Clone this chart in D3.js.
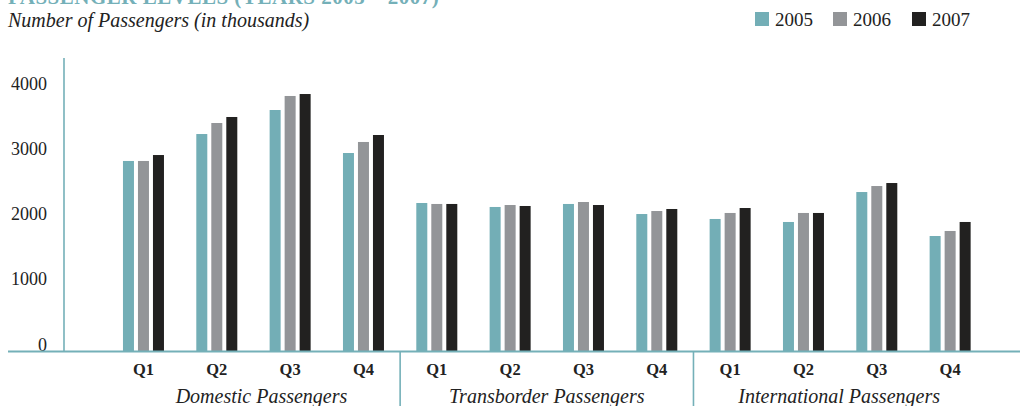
<!DOCTYPE html>
<html>
<head>
<meta charset="utf-8">
<script src="https://cdn.jsdelivr.net/npm/d3@7"></script>
<style>
  html, body { margin: 0; padding: 0; background: #fff; }
  svg { display: block; }
  text { font-family: "Liberation Serif", "DejaVu Serif", serif; }
</style>
</head>
<body>
<svg id="chart" width="1020" height="406"></svg>
<script>
// ---- data ----
const groups = ["Domestic Passengers", "Transborder Passengers", "International Passengers"];
const quarters = ["Q1", "Q2", "Q3", "Q4"];
const years = ["2005", "2006", "2007"];
const values2005 = [2920, 3333, 3701, 3042, 2276, 2215, 2261, 2107, 2031, 1985, 2444, 1770];
const values2006 = [2920, 3502, 3916, 3211, 2261, 2245, 2291, 2153, 2123, 2123, 2536, 1847];
const values2007 = [3011, 3594, 3946, 3318, 2261, 2230, 2245, 2184, 2199, 2123, 2582, 1985];
const yTicks = [0, 1000, 2000, 3000, 4000];
const titleText = "PASSENGER LEVELS (YEARS 2005 – 2007)";
const subtitleText = "Number of Passengers (in thousands)";

// ---- setup ----
const colors = ["#73aeb6", "#939598", "#222120"];
const axisColor = "#74b0b8";
const series = [values2005, values2006, values2007];

const slots = [];
groups.forEach((g, gi) => quarters.forEach((q, qi) => slots.push({ id: gi + "-" + qi, g: gi, q })));

const svg = d3.select("#chart");

const x = d3.scaleBand().domain(slots.map(d => d.id)).range([106.8, 986.8]).padding(0);
const xIn = d3.scaleBand().domain(years).range([0, 41]).paddingInner(4 / 15).paddingOuter(0);
const y = d3.scaleLinear().domain([0, 4000]).range([351.5, 90.5]);

// title (clipped at top, as in the source) and subtitle
svg.append("text").attr("x", 8).attr("y", 4)
  .attr("fill", "#74b0b8").attr("font-size", 21).attr("font-weight", "bold")
  .attr("letter-spacing", 0.5)
  .text(titleText);
svg.append("text").attr("x", 8).attr("y", 27)
  .attr("fill", "#222").attr("font-size", 20).attr("font-style", "italic")
  .text(subtitleText);

// legend
const legend = svg.append("g");
const legendX = [755, 833, 912];
years.forEach((yr, i) => {
  const lg = legend.append("g").attr("transform", `translate(${legendX[i]},12)`);
  lg.append("rect").attr("width", 14).attr("height", 14).attr("fill", colors[i]);
  lg.append("text").attr("x", 20).attr("y", 13.5).attr("font-size", 19)
    .attr("fill", "#222").text(yr);
});

// bars
const bars = svg.append("g");
years.forEach((yr, si) => {
  bars.selectAll(null).data(slots).enter().append("rect")
    .attr("x", (d) => x(d.id) + (x.bandwidth() - 41) / 2 + xIn(yr))
    .attr("width", xIn.bandwidth())
    .attr("y", (d, i) => y(series[si][i]))
    .attr("height", (d, i) => y(0) - y(series[si][i]))
    .attr("fill", colors[si]);
});

// y axis
const yAxis = d3.axisLeft(y).tickValues(yTicks).tickFormat(d3.format("d")).tickSize(0).tickPadding(17);
const yg = svg.append("g").attr("transform", "translate(64,0)").call(yAxis);
yg.select(".domain").remove();
yg.selectAll("text").attr("font-size", 18).attr("fill", "#222")
  .attr("font-family", "Liberation Serif, serif").attr("dy", "-0.08em");
svg.append("line").attr("x1", 64).attr("x2", 64).attr("y1", 58).attr("y2", y(0))
  .attr("stroke", axisColor).attr("stroke-width", 1.6);

// baseline
svg.append("line").attr("x1", 8).attr("x2", 1020).attr("y1", y(0)).attr("y2", y(0))
  .attr("stroke", axisColor).attr("stroke-width", 1.8);

// x axis quarter labels
const xAxis = d3.axisBottom(x).tickFormat(id => slots.find(s => s.id === id).q).tickSize(0).tickPadding(12);
const xg = svg.append("g").attr("transform", `translate(0,${y(0)})`).call(xAxis);
xg.select(".domain").remove();
xg.selectAll("text").attr("font-size", 16.5).attr("font-weight", "bold").attr("fill", "#222")
  .attr("font-family", "Liberation Serif, serif");

// group separators and labels
const groupStart = gi => x(gi + "-0");
const groupEnd = gi => x(gi + "-3") + x.bandwidth();
[1, 2].forEach(gi => {
  svg.append("line").attr("x1", groupStart(gi)).attr("x2", groupStart(gi))
    .attr("y1", y(0)).attr("y2", 406).attr("stroke", axisColor).attr("stroke-width", 1.6);
});
const labelDx = [8, 0, -1];
groups.forEach((g, gi) => {
  svg.append("text")
    .attr("x", (groupStart(gi) + groupEnd(gi)) / 2 + labelDx[gi])
    .attr("y", 403).attr("text-anchor", "middle")
    .attr("font-size", 20).attr("font-style", "italic").attr("fill", "#222")
    .text(g);
});
</script>
</body>
</html>
